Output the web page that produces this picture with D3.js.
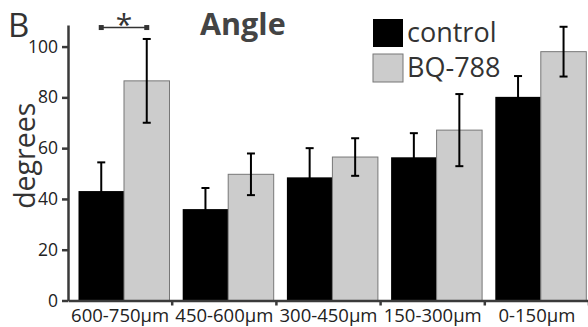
<!DOCTYPE html>
<html>
<head>
<meta charset="utf-8">
<script src="https://cdn.jsdelivr.net/npm/d3@7"></script>
<style>
  html, body { margin: 0; padding: 0; background: #fff; }
  svg { display: block; font-family: "Open Sans", sans-serif; }
</style>
</head>
<body>
<svg id="chart" width="588" height="327"></svg>
<script>
// data
const categories = ["600-750\u00b5m", "450-600\u00b5m", "300-450\u00b5m", "150-300\u00b5m", "0-150\u00b5m"];
const seriesNames = ["control", "BQ-788"];
const controlMean = [43.1, 36.0, 48.5, 56.4, 80.2];
const controlErr = [11.3, 8.3, 11.5, 9.5, 8.2];
const bqMean = [86.5, 49.7, 56.5, 67.1, 98.0];
const bqErr = [16.5, 8.2, 7.4, 14.2, 9.8];
const yTicks = [0, 20, 40, 60, 80, 100];

const colors = { "control": "#000000", "BQ-788": "#cccccc" };
const axisColor = "#3a3a3a";

const svg = d3.select("#chart");

const rows = [];
categories.forEach((c, i) => {
    rows.push({ cat: c, series: "control", mean: controlMean[i], err: controlErr[i] });
    rows.push({ cat: c, series: "BQ-788", mean: bqMean[i], err: bqErr[i] });
});

const x0 = d3.scaleBand().domain(categories).range([68, 589]);
const x1 = d3.scaleBand().domain(seriesNames).range([10.5, 101.5]);
const y = d3.scaleLinear().domain([0, 108.5]).range([300.5, 25]);

// bars
const bars = svg.append("g").attr("class", "bars");
bars.selectAll("rect")
    .data(rows)
    .enter()
    .append("rect")
    .attr("x", d => x0(d.cat) + x1(d.series))
    .attr("y", d => y(d.mean))
    .attr("width", x1.bandwidth())
    .attr("height", d => y(0) - y(d.mean))
    .attr("fill", d => colors[d.series])
    .attr("stroke", d => d.series === "control" ? "none" : "#777")
    .attr("stroke-width", 1);

// error bars
const eb = svg.append("g").attr("class", "errors")
    .attr("stroke", "#000").attr("stroke-width", 2);
const cx = d => x0(d.cat) + x1(d.series) + x1.bandwidth() / 2;
eb.selectAll(".stem").data(rows).enter().append("line")
    .attr("x1", cx).attr("x2", cx)
    .attr("y1", d => y(d.mean - d.err)).attr("y2", d => y(d.mean + d.err));
eb.selectAll(".capTop").data(rows).enter().append("line")
    .attr("x1", d => cx(d) - 4).attr("x2", d => cx(d) + 4)
    .attr("y1", d => y(d.mean + d.err)).attr("y2", d => y(d.mean + d.err));
eb.selectAll(".capBot").data(rows).enter().append("line")
    .attr("x1", d => cx(d) - 4).attr("x2", d => cx(d) + 4)
    .attr("y1", d => y(d.mean - d.err)).attr("y2", d => y(d.mean - d.err));

// y axis
const yAxis = svg.append("g")
    .attr("transform", `translate(${x0.range()[0]},0)`)
    .call(d3.axisLeft(y).tickValues(yTicks).tickSize(6).tickPadding(4).tickSizeOuter(0));
yAxis.select(".domain").attr("stroke", axisColor).attr("stroke-width", 2.5);
yAxis.selectAll(".tick line").attr("stroke", axisColor).attr("stroke-width", 2.5);
yAxis.selectAll(".tick text")
    .attr("fill", "#222").attr("font-size", 17.5).attr("font-family", "Open Sans");

// x axis
const xAxis = svg.append("g")
    .attr("transform", `translate(0,${y(0)})`)
    .call(d3.axisBottom(x0).tickSize(0).tickPadding(8).tickSizeOuter(0));
xAxis.select(".domain").attr("stroke", axisColor).attr("stroke-width", 2.5);
xAxis.selectAll(".tick text")
    .attr("fill", "#222").attr("font-size", 18.5).attr("font-family", "Open Sans");
xAxis.selectAll(".bound")
    .data(categories)
    .enter()
    .append("line")
    .attr("x1", d => x0(d) + x0.bandwidth()).attr("x2", d => x0(d) + x0.bandwidth())
    .attr("y1", 0).attr("y2", 5)
    .attr("stroke", axisColor).attr("stroke-width", 2.5);

// axis title
svg.append("text")
    .attr("transform", `translate(35,${y(57)}) rotate(-90)`)
    .attr("text-anchor", "middle")
    .attr("font-size", 28.5)
    .attr("fill", "#333")
    .text("degrees");

// panel letter and title
svg.append("text")
    .attr("x", 8).attr("y", 37)
    .attr("font-size", 33)
    .attr("fill", "#333")
    .text("B");
svg.append("text")
    .attr("x", 200).attr("y", 35)
    .attr("font-size", 30.5)
    .attr("font-weight", "bold")
    .attr("fill", "#444")
    .text("Angle");

// significance bracket
const sig = svg.append("g").attr("fill", "#333").attr("stroke", "#333");
const sx1 = x0(categories[0]) + x1("control") + x1.bandwidth() / 2;
const sx2 = x0(categories[0]) + x1("BQ-788") + x1.bandwidth() / 2;
const sy = y(107.5);
sig.append("line").attr("x1", sx1).attr("x2", sx2).attr("y1", sy).attr("y2", sy).attr("stroke-width", 1.5);
sig.selectAll("rect").data([sx1, sx2]).enter().append("rect")
    .attr("x", d => d - 2.5).attr("y", sy - 2.5).attr("width", 5).attr("height", 5).attr("stroke", "none");
sig.append("text")
    .attr("x", (sx1 + sx2) / 2).attr("y", sy + 7)
    .attr("text-anchor", "middle")
    .attr("font-size", 30)
    .attr("stroke", "none")
    .text("*");

// legend
const legend = svg.append("g").attr("transform", "translate(373,19)");
const li = legend.selectAll("g").data(seriesNames).enter().append("g")
    .attr("transform", (d, i) => `translate(0,${i * 35})`);
li.append("rect")
    .attr("width", 30).attr("height", 28)
    .attr("fill", d => colors[d])
    .attr("stroke", d => d === "control" ? "none" : "#777")
    .attr("stroke-width", 1);
li.append("text")
    .attr("x", 34).attr("y", 23)
    .attr("font-size", 27)
    .attr("fill", "#333")
    .text(d => d);
</script>
</body>
</html>
